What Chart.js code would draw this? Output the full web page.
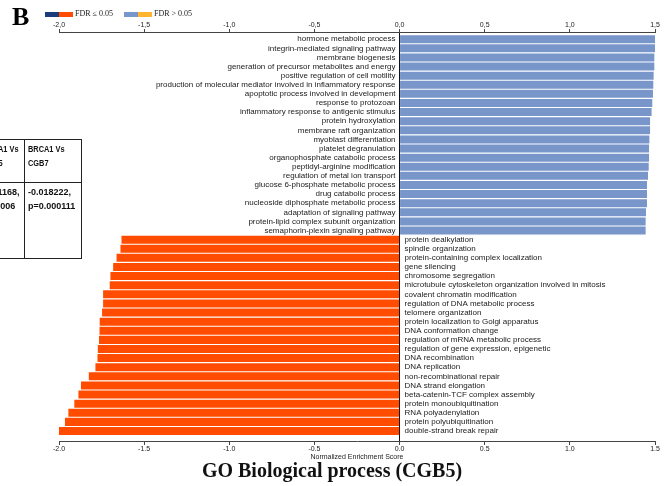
<!DOCTYPE html>
<html>
<head>
<meta charset="utf-8">
<script src="https://cdn.jsdelivr.net/npm/chart.js@4.4.1/dist/chart.umd.min.js"></script>
<style>
  body { margin: 0; width: 664px; height: 486px; overflow: hidden; background: #fff; position: relative; }
  #wrap { position: absolute; left: 0; top: 0; width: 664px; height: 486px; }
  .panel { position: absolute; left: 12px; top: 2px; font: bold 26px "Liberation Serif", serif; }
  .legend { position: absolute; top: 9px; font: 8px "Liberation Serif", serif; color: #222; }
  .legend span.box { display: inline-block; width: 14px; height: 5px; vertical-align: middle; }
  .title { position: absolute; left: 0; width: 664px; top: 459px; text-align: center; font: bold 20px "Liberation Serif", serif; color: #111; }
  .cell { position: absolute; box-sizing: border-box; border: 1px solid #222; font: bold 9px "Liberation Sans Narrow", "Arial Narrow", sans-serif; color: #111; line-height: 14px; padding: 2px 0 0 3px; white-space: nowrap; }
  .cell.head span { display: inline-block; transform: scaleX(0.82); transform-origin: 0 50%; }
</style>
</head>
<body>
<div id="wrap"><canvas id="myChart" width="664" height="486"></canvas></div>
<div class="panel">B</div>
<div class="legend" style="left:45px"><span class="box" style="background:#1b3b7a"></span><span class="box" style="background:#ff4c00"></span> FDR &le; 0.05</div>
<div class="legend" style="left:124px"><span class="box" style="background:#7896c9"></span><span class="box" style="background:#ffb52e"></span> FDR &gt; 0.05</div>
<div class="cell head" style="left:-22px; top:139px; width:47px; height:44px;"><span>BRCA1 Vs</span><br><span>CGB5</span></div>
<div class="cell head" style="left:24px; top:139px; width:58px; height:44px;"><span>BRCA1 Vs</span><br><span>CGB7</span></div>
<div class="cell" style="left:-22px; top:182px; width:47px; height:77px;">-0.01168,<br>p=0.006</div>
<div class="cell" style="left:24px; top:182px; width:58px; height:77px;">-0.018222,<br>p=0.000111</div>
<div class="title">GO Biological process (CGB5)</div>
<script>
var blueTerms = ['hormone metabolic process', 'integrin-mediated signaling pathway', 'membrane biogenesis',
  'generation of precursor metabolites and energy', 'positive regulation of cell motility',
  'production of molecular mediator involved in inflammatory response', 'apoptotic process involved in development',
  'response to protozoan', 'inflammatory response to antigenic stimulus', 'protein hydroxylation',
  'membrane raft organization', 'myoblast differentiation', 'platelet degranulation',
  'organophosphate catabolic process', 'peptidyl-arginine modification', 'regulation of metal ion transport',
  'glucose 6-phosphate metabolic process', 'drug catabolic process', 'nucleoside diphosphate metabolic process',
  'adaptation of signaling pathway', 'protein-lipid complex subunit organization', 'semaphorin-plexin signaling pathway'];
var blueNES = [1.500, 1.500, 1.496, 1.496, 1.492, 1.490, 1.488, 1.484, 1.480, 1.471, 1.471,
  1.467, 1.465, 1.465, 1.463, 1.459, 1.453, 1.453, 1.453, 1.447, 1.445, 1.445];

var redTerms = ['protein dealkylation', 'spindle organization', 'protein-containing complex localization',
  'gene silencing', 'chromosome segregation', 'microtubule cytoskeleton organization involved in mitosis',
  'covalent chromatin modification', 'regulation of DNA metabolic process', 'telomere organization',
  'protein localization to Golgi apparatus', 'DNA conformation change', 'regulation of mRNA metabolic process',
  'regulation of gene expression, epigenetic', 'DNA recombination', 'DNA replication',
  'non-recombinational repair', 'DNA strand elongation', 'beta-catenin-TCF complex assembly',
  'protein monoubiquitination', 'RNA polyadenylation', 'protein polyubiquitination', 'double-strand break repair'];
var redNES = [-1.633, -1.639, -1.662, -1.682, -1.698, -1.702, -1.741, -1.741, -1.747, -1.761, -1.762,
  -1.765, -1.772, -1.774, -1.786, -1.825, -1.871, -1.886, -1.910, -1.945, -1.965, -2.000];

var xTicks = [-2.0, -1.5, -1.0, -0.5, 0.0, 0.5, 1.0, 1.5];

var terms = blueTerms.concat(redTerms);
var nes = blueNES.concat(redNES);
var points = nes.map(function (v, i) { return { x: v, y: i }; });
var colors = nes.map(function (v) { return v > 0 ? '#7896c9' : '#ff4c00'; });

// term names next to the zero line
var termLabels = {
  id: 'termLabels',
  afterDatasetsDraw: function (chart) {
    var c = chart.ctx;
    var x0 = chart.scales.x.getPixelForValue(0);
    c.save();
    c.font = '8px "Liberation Sans", Arial, sans-serif';
    c.fillStyle = '#1a1a1a';
    c.textBaseline = 'middle';
    chart.getDatasetMeta(0).data.forEach(function (bar, i) {
      if (nes[i] > 0) {
        c.textAlign = 'right';
        c.fillText(terms[i], x0 - 4, bar.y);
      } else {
        c.textAlign = 'left';
        c.fillText(terms[i], x0 + 5, bar.y);
      }
    });
    c.restore();
  }
};

var ctx = document.getElementById('myChart').getContext('2d');
var myChart = new Chart(ctx, {
  type: 'bar',
  data: {
    datasets: [{
      data: points,
      backgroundColor: colors,
      barPercentage: 0.88,
      categoryPercentage: 1.0
    }]
  },
  options: {
    indexAxis: 'y',
    responsive: false,
    animation: false,
    layout: { padding: { top: 20, left: 59, right: 9, bottom: 25 } },
    plugins: { legend: { display: false }, tooltip: { enabled: false } },
    scales: {
      y: {
        type: 'linear',
        reverse: true,
        offset: false,
        min: -0.79,
        max: 44.1,
        display: false
      },
      x: {
        type: 'linear',
        position: 'bottom',
        min: -2,
        max: 1.5,
        afterBuildTicks: function (s) { s.ticks = xTicks.map(function (v) { return { value: v }; }); },
        afterFit: function (s) { s.height = 20; },
        border: { color: '#444', width: 1 },
        grid: {
          color: function (c) { return c.tick && c.tick.value === 0 ? '#111' : 'rgba(0,0,0,0)'; },
          tickColor: '#444',
          tickLength: 4
        },
        ticks: {
          padding: 0,
          color: '#222',
          font: { size: 7, family: '"Liberation Sans", Arial, sans-serif' },
          callback: function (v) { return v.toFixed(1); }
        },
        title: {
          display: true,
          text: 'Normalized Enrichment Score',
          color: '#222',
          font: { size: 7, family: '"Liberation Sans", Arial, sans-serif' },
          padding: { top: 0, bottom: 0 }
        }
      },
      x2: {
        axis: 'x',
        type: 'linear',
        position: 'top',
        display: true,
        min: -2,
        max: 1.5,
        afterBuildTicks: function (s) { s.ticks = xTicks.map(function (v) { return { value: v }; }); },
        afterFit: function (s) { s.height = 12; },
        border: { color: '#444', width: 1 },
        grid: { drawOnChartArea: false, tickColor: '#444', tickLength: 3 },
        ticks: {
          padding: 0,
          color: '#222',
          font: { size: 7, family: '"Liberation Sans", Arial, sans-serif' },
          callback: function (v) { return v.toFixed(1).replace('.', ','); }
        }
      }
    }
  },
  plugins: [termLabels]
});
</script>
</body>
</html>
